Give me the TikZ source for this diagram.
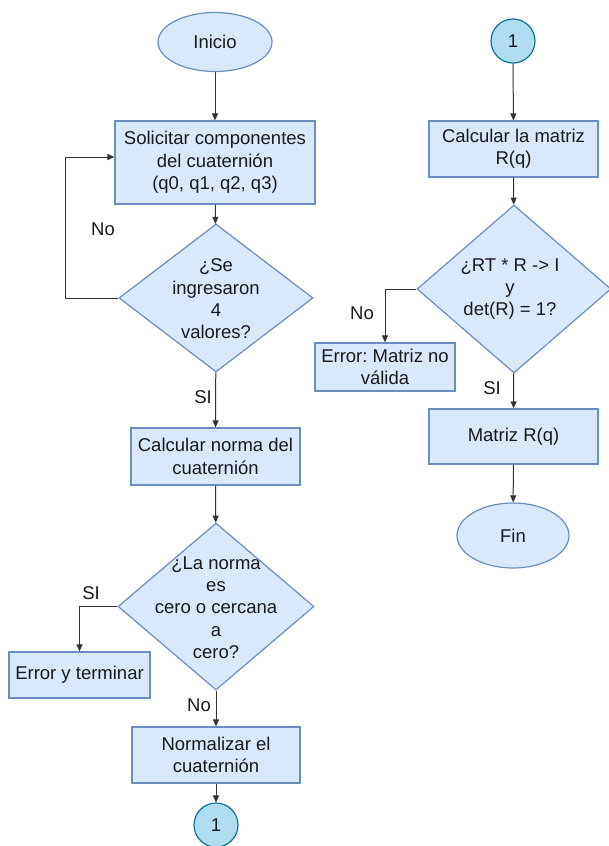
\documentclass[tikz,border=0pt]{standalone}
\usepackage{fontspec}
\setmainfont{Liberation Sans}
\usetikzlibrary{shapes.geometric,arrows.meta}
\frenchspacing
\definecolor{boxfill}{HTML}{DAE8FC}
\definecolor{boxline}{HTML}{6C8EBF}
\definecolor{cfill}{HTML}{B1DDF0}
\definecolor{cline}{HTML}{10739E}
\definecolor{ink}{HTML}{1A1A1A}
\definecolor{wire}{HTML}{333333}
\tikzset{
  base/.style={draw=boxline, fill=boxfill, line width=1.2pt, inner sep=0pt, text=ink, align=center, font=\fontsize{18.5}{22.3}\selectfont},
  proc/.style={base, rectangle},
  term/.style={base, ellipse},
  decis/.style={base, diamond},
  conn/.style={base, circle, draw=cline, fill=cfill, minimum size=44pt},
  dtext/.style={text=ink, align=center, font=\fontsize{18.5}{22.3}\selectfont, inner sep=0pt},
  lbl/.style={text=ink, inner sep=0pt, font=\fontsize{18.5}{22.3}\selectfont},
  arr/.style={draw=wire, line width=1pt, -{Triangle[length=7pt,width=6pt]}},
}
\begin{document}
\begin{tikzpicture}[x=1pt,y=-1pt]
\useasboundingbox (0,0) rectangle (608,846);
% left column
\node[term, minimum width=114pt, minimum height=59pt] (ini) at (215,42) {Inicio};
\node[proc, minimum width=200pt, minimum height=83pt] (sol) at (215,162.5) {Solicitar componentes\\del cuaternión\\(q0, q1, q2, q3)};
\node[decis, minimum width=194pt, minimum height=148pt] (d1) at (216,298) {};
\node[dtext] (d1t) at (216,299) {¿Se\\ingresaron\\4\\valores?};
\node[proc, minimum width=169pt, minimum height=57pt] (nrm) at (215.5,456.5) {Calcular norma del\\cuaternión};
\node[decis, minimum width=196pt, minimum height=167pt] (d2) at (216,606.5) {};
\node[dtext] (d2t) at (216,607.5) {¿La norma\\es\\cero o cercana\\a\\cero?};
\node[proc, minimum width=141pt, minimum height=46pt] (err1) at (79.5,675) {Error y terminar};
\node[proc, minimum width=168pt, minimum height=56pt] (nor) at (216,755) {Normalizar el\\cuaternión};
\node[conn] (c1) at (216,825) {1};
% right column
\node[conn] (c2) at (513,41) {1};
\node[proc, minimum width=169pt, minimum height=56pt] (calc) at (513.5,149) {Calcular la matriz\\R(q)};
\node[decis, minimum width=194pt, minimum height=168pt] (d3) at (514,289) {};
\node[dtext] (d3t) at (510,289) {¿RT * R -> I\\y\\det(R) = 1?};
\node[proc, minimum width=140pt, minimum height=48pt] (err2) at (385,367) {Error: Matriz no\\válida};
\node[proc, minimum width=169pt, minimum height=55pt] (mat) at (513.5,436.5) {Matriz R(q)};
\node[term, minimum width=112pt, minimum height=65pt] (fin) at (513,535.5) {Fin};
% labels
\node[lbl] (l1) at (103,229) {No};
\node[lbl] (l2) at (203,397) {SI};
\node[lbl] (l3) at (91,593) {SI};
\node[lbl] (l4) at (199,705) {No};
\node[lbl] (l5) at (362,313) {No};
\node[lbl] (l6) at (492,388) {SI};
% connectors
\draw[arr] (ini) -- (sol);
\draw[arr] (sol) -- (d1);
\draw[arr] (d1.west) -- ++(-53,0) |- ([yshift=5.5pt]sol.west);
\draw[arr] (d1) -- (nrm);
\draw[arr] (nrm) -- (d2);
\draw[arr] (d2.west) -| (err1.north);
\draw[arr] (d2) -- (nor);
\draw[arr] (nor) -- (c1);
\draw[arr] (c2) -- (calc);
\draw[arr] (calc) -- (d3);
\draw[arr] (d3.west) -| (err2.north);
\draw[arr] (d3) -- (mat);
\draw[arr] (mat) -- (fin);
\end{tikzpicture}
\end{document}
